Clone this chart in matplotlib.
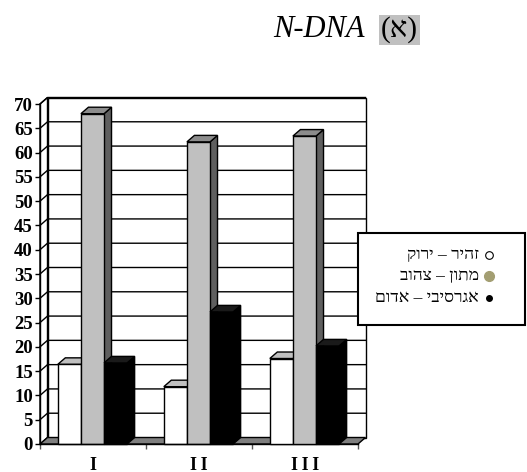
import matplotlib
matplotlib.use("Agg")
import matplotlib.pyplot as plt
from matplotlib.patches import Polygon, Rectangle
from matplotlib.lines import Line2D
import numpy as np

# ---------------- data ----------------
categories = ["I", "II", "III"]
series_names = ["זהיר – ירוק", "מתון – צהוב", "אגרסיבי – אדום"]
white_vals = [16.4, 11.8, 17.6]
gray_vals = [68.0, 62.2, 63.4]
black_vals = [16.7, 27.2, 20.2]
y_ticks = list(range(0, 75, 5))
title_main = "N-DNA"
title_tag = "(א)"

# ---------------- style ----------------
W, H, DPI = 527, 472, 100
SERIF = ["Liberation Serif", "DejaVu Serif"]
plt.rcParams["font.family"] = SERIF

fig = plt.figure(figsize=(W / DPI, H / DPI), dpi=DPI)
fig.patch.set_facecolor("white")

# front plane of the 3-D chart
ax = fig.add_axes([40 / W, 28 / H, 318 / W, 340 / H])
ax.set_xlim(-0.5, 2.5)
ax.set_ylim(0, 70)
ax.patch.set_visible(False)
for s in ["top", "right"]:
    ax.spines[s].set_visible(False)
ax.spines["left"].set_linewidth(1.0)
ax.spines["bottom"].set_linewidth(1.0)
ax.spines["left"].set_zorder(10)
ax.spines["bottom"].set_zorder(10)

# depth offset in data units (~7.5 px right, ~6.5 px up)
px_x = 318 / 3.0
px_y = 340 / 70.0
DX = 7.5 / px_x
DY = 6.5 / px_y

x0, x1 = -0.5, 2.5
# left side wall
ax.add_patch(Polygon([[x0, 0], [x0, 70], [x0 + DX, 70 + DY], [x0 + DX, DY]],
                     closed=True, facecolor="white", edgecolor="black", lw=1.0,
                     clip_on=False, zorder=1))
# back wall
ax.add_patch(Polygon([[x0 + DX, DY], [x0 + DX, 70 + DY], [x1 + DX, 70 + DY], [x1 + DX, DY]],
                     closed=True, facecolor="white", edgecolor="black", lw=1.0,
                     clip_on=False, zorder=1))
# gridlines (side wall + back wall)
for v in y_ticks[1:]:
    ax.add_line(Line2D([x0, x0 + DX, x1 + DX], [v, v + DY, v + DY],
                       color="black", lw=1.0, clip_on=False, zorder=2))
# floor
ax.add_patch(Polygon([[x0, 0], [x1, 0], [x1 + DX, DY], [x0 + DX, DY]],
                     closed=True, facecolor="#7f7f7f", edgecolor="black", lw=1.0,
                     clip_on=False, zorder=3))

# bars
bw = 0.218
offsets = [-bw, 0.0, bw]
shift = -0.005
series = [
    (white_vals, "#ffffff", "#c0c0c0", "#ffffff"),
    (gray_vals, "#c0c0c0", "#8c8c8c", "#5f5f5f"),
    (black_vals, "#000000", "#1a1a1a", "#000000"),
]
xs = np.arange(len(categories))
z = 4
for i in range(len(categories)):
    for k, (vals, front, top, side) in enumerate(series):
        v = vals[i]
        a = xs[i] + shift + offsets[k] - bw / 2
        b = a + bw
        ax.add_patch(Polygon([[b, 0], [b, v], [b + DX, v + DY], [b + DX, DY]], closed=True,
                             facecolor=side, edgecolor="black", lw=1.0, clip_on=False, zorder=z))
        ax.add_patch(Polygon([[a, v], [b, v], [b + DX, v + DY], [a + DX, v + DY]], closed=True,
                             facecolor=top, edgecolor="black", lw=1.0, clip_on=False, zorder=z))
        ax.bar([a], [v], width=bw, align="edge", color=front, edgecolor="black",
               linewidth=1.0, zorder=z + 0.5, clip_on=False)
        z += 1

# axes ticks
ax.set_yticks(y_ticks)
ax.set_yticklabels([str(t) for t in y_ticks], fontsize=13.5, fontweight="bold")
ax.tick_params(axis="y", direction="out", length=3.6, width=1.0, pad=1.5)
ax.set_xticks(xs)
ax.set_xticklabels(["\u2009".join(c) for c in categories], fontsize=13, fontweight="bold")
ax.tick_params(axis="x", which="major", length=0, pad=9)
ax.set_xticks([-0.5, 0.5, 1.5, 2.5], minor=True)
ax.tick_params(axis="x", which="minor", direction="out", length=3.6, width=1.0, color="#555555")

# title
fig.text(273 / W, 1 - 37 / H, title_main, fontsize=22, fontstyle="italic",
         ha="left", va="baseline")
fig.text(381 / W, 1 - 37 / H, title_tag, fontsize=21, ha="left", va="baseline",
         bbox=dict(boxstyle="square,pad=0.06", facecolor="#c0c0c0", edgecolor="none"))

# legend (right-to-left layout)
fig.patches.append(Rectangle((358 / W, 1 - 325 / H), 167 / W, 92 / H, transform=fig.transFigure,
                             facecolor="white", edgecolor="black", lw=1.5, zorder=5))
rows_y = [255, 276, 298]
markers = [
    dict(marker="o", markersize=5.5, markerfacecolor="white", markeredgecolor="black", markeredgewidth=0.8),
    dict(marker="o", markersize=7, markerfacecolor="#a39e72", markeredgecolor="#a39e72"),
    dict(marker="o", markersize=4, markerfacecolor="black", markeredgecolor="black"),
]
for name, yy, mk in zip(series_names, rows_y, markers):
    fig.text(479 / W, 1 - yy / H, name[::-1], fontsize=12.5, ha="right", va="center", zorder=6)
    fig.add_artist(Line2D([489 / W], [1 - yy / H], transform=fig.transFigure, linestyle="none",
                          zorder=6, **mk))

fig.savefig("out.png", dpi=DPI)
